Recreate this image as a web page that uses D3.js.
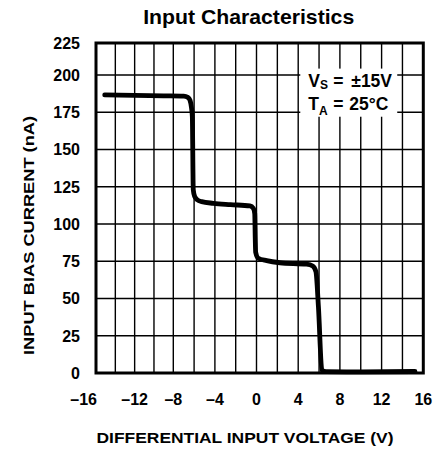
<!DOCTYPE html>
<html>
<head>
<meta charset="utf-8">
<script src="https://cdn.jsdelivr.net/npm/d3@7"></script>
<style>
  html, body { margin: 0; padding: 0; background: #fff; }
  svg { display: block; }
  text { font-family: "Liberation Sans", Arial, Helvetica, sans-serif; font-weight: bold; fill: #000; }
</style>
</head>
<body>
<script>
// ---- data ----
const voltage = [-15.1, -12, -9, -7, -6.6, -6.39, -6.25, -6.17, -6.08, -5.95, -5.7, -5.27, -4.15, -2.5, -0.625, -0.3, -0.17, -0.12, -0.08, 0.17, 0.98, 2.25, 4.8, 5.39, 5.7, 5.94, 6.27, 6.67, 10, 15.2];
const current = [186.6, 186.3, 186, 185.8, 185, 183, 178, 172, 123, 118.5, 116.3, 115, 113.9, 113, 112.1, 110.5, 107, 90, 81, 77, 75.4, 74, 73, 71.8, 68, 44.5, 2, 0.9, 0.8, 1];
const xTicks = [-16, -12, -8, -4, 0, 4, 8, 12, 16];
const yTicks = [0, 25, 50, 75, 100, 125, 150, 175, 200, 225];
const xGrid = [-14, -12, -10, -8, -6, -4, -2, 0, 2, 4, 6, 8, 10, 12, 14];
const yGrid = [25, 50, 75, 100, 125, 150, 175, 200];
const title = "Input Characteristics";
const xTitle = "DIFFERENTIAL INPUT VOLTAGE (V)";
const yTitle = "INPUT BIAS CURRENT (nA)";

const W = 435, H = 450;
const svg = d3.select("body").append("svg").attr("width", W).attr("height", H);

const x = d3.scaleLinear().domain([-16, -8, 0, 16]).range([96, 173.3, 256.5, 423.3]);
const y = d3.scaleLinear().domain([0, 200, 225]).range([373, 75, 43]);

// grid
svg.append("g").selectAll("line").data(xGrid).join("line")
  .attr("x1", d => x(d)).attr("x2", d => x(d))
  .attr("y1", y(225)).attr("y2", y(0))
  .attr("stroke", "#000").attr("stroke-width", 1.4);
svg.append("g").selectAll("line").data(yGrid).join("line")
  .attr("x1", x(-16)).attr("x2", x(16))
  .attr("y1", d => y(d)).attr("y2", d => y(d))
  .attr("stroke", "#000").attr("stroke-width", 1.4);

// annotation box (white background)
svg.append("rect")
  .attr("x", x(4.2)).attr("y", y(205))
  .attr("width", x(13.5) - x(4.2)).attr("height", y(172) - y(205))
  .attr("fill", "#fff");

// frame
svg.append("rect")
  .attr("x", x(-16)).attr("y", y(225))
  .attr("width", x(16) - x(-16)).attr("height", y(0) - y(225))
  .attr("fill", "none").attr("stroke", "#000").attr("stroke-width", 3);

// curve
const pts = voltage.map((v, i) => [v, current[i]]);
const line = d3.line().x(d => x(d[0])).y(d => y(d[1])).curve(d3.curveMonotoneX);
svg.append("path").attr("d", line(pts))
  .attr("fill", "none").attr("stroke", "#000").attr("stroke-width", 4.8)
  .attr("stroke-linejoin", "round").attr("stroke-linecap", "round");

// y tick labels
svg.append("g").selectAll("text").data(yTicks).join("text")
  .attr("x", 80).attr("y", d => y(d)).attr("dy", "0.36em")
  .attr("text-anchor", "end").attr("font-size", 16)
  .text(d => d);

// x tick labels
svg.append("g").selectAll("text").data(xTicks).join("text")
  .attr("x", (d, i) => i === 0 ? x(d) + 1 : x(d))
  .attr("y", 405)
  .attr("text-anchor", (d, i) => i === 0 ? "end" : "middle")
  .attr("font-size", 16)
  .text(d => d < 0 ? "\u2013" + Math.abs(d) : String(d));

// title
svg.append("text").attr("x", 248.7).attr("y", 24).attr("text-anchor", "middle")
  .attr("font-size", 20.5).attr("textLength", 211).attr("lengthAdjust", "spacingAndGlyphs")
  .text(title);

// axis titles
svg.append("text").attr("x", 245).attr("y", 443).attr("text-anchor", "middle")
  .attr("font-size", 15).attr("textLength", 297).attr("lengthAdjust", "spacingAndGlyphs")
  .text(xTitle);
svg.append("text").attr("transform", "translate(34,235.5) rotate(-90)")
  .attr("text-anchor", "middle")
  .attr("font-size", 15).attr("textLength", 239).attr("lengthAdjust", "spacingAndGlyphs")
  .text(yTitle);

// annotation text
const ax = x(4.2) + 8;
const t1 = svg.append("text").attr("x", ax).attr("y", 87.3).attr("font-size", 17.5);
t1.append("tspan").text("V");
t1.append("tspan").attr("font-size", 12).attr("dy", 2).text("S");
t1.append("tspan").attr("dy", -2).attr("x", ax + 25).text("=");
t1.append("tspan").attr("x", ax + 43).text("\u00b115V");
const t2 = svg.append("text").attr("x", ax).attr("y", 109.5).attr("font-size", 17.5);
t2.append("tspan").text("T");
t2.append("tspan").attr("font-size", 12).attr("dy", 5).text("A");
t2.append("tspan").attr("dy", -5).attr("x", ax + 25).text("=");
t2.append("tspan").attr("x", ax + 41).text("25\u00b0C");
</script>
</body>
</html>
